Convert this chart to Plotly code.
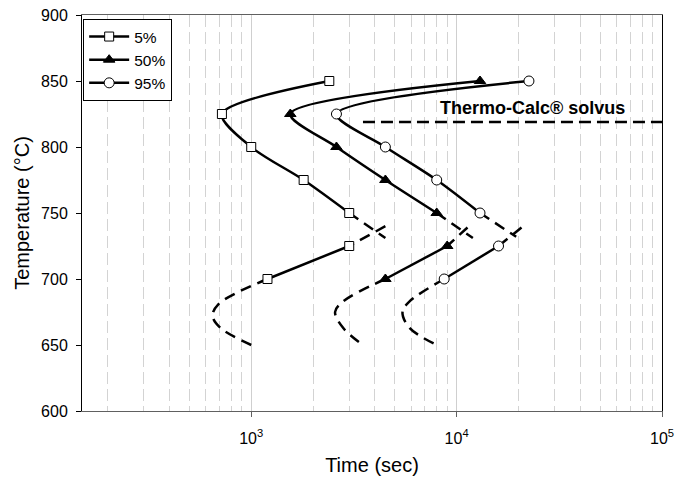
import numpy as np
import plotly.graph_objects as go

# ---------------- data ----------------
# 5 % transformed
t5_upper = [2400, 720, 1000, 1800, 3000]
T5_upper = [850, 825, 800, 775, 750]
t5_ext_up = [3000, 4500]
T5_ext_up = [750, 731]
t5_ext_lo = [4500, 3000]
T5_ext_lo = [740, 725]
t5_lower = [3000, 1200]
T5_lower = [725, 700]
t5_nose = [1200, 693, 649, 707, 1000]
T5_nose = [700, 681, 672, 663, 650]

# 50 % transformed
t50_upper = [13000, 1550, 2600, 4500, 8000]
T50_upper = [850, 825, 800, 775, 750]
t50_ext_up = [8000, 12000]
T50_ext_up = [750, 731]
t50_ext_lo = [11300, 9000]
T50_ext_lo = [739, 725]
t50_lower = [9000, 4500]
T50_lower = [725, 700]
t50_nose = [4500, 2800, 2560, 2800, 3500]
T50_nose = [700, 683, 675, 663, 650]

# 95 % transformed
t95_upper = [22500, 2600, 4500, 8000, 13000]
T95_upper = [850, 825, 800, 775, 750]
t95_ext_up = [13000, 19500]
T95_ext_up = [750, 732]
t95_ext_lo = [20700, 16000]
T95_ext_lo = [739, 725]
t95_lower = [16000, 8700]
T95_lower = [725, 700]
t95_nose = [8700, 5900, 5450, 5900, 8000]
T95_nose = [700, 683, 675, 663, 650]

# Thermo-Calc solvus
t_solvus = [3500, 100000]
T_solvus = [819, 819]
solvus_label = "Thermo-Calc® solvus"
solvus_label_t = 8100
solvus_label_T = 829.5

x_tickvals = [1000, 10000, 100000]
x_ticktext = ["10<sup>3</sup>", "10<sup>4</sup>", "10<sup>5</sup>"]
x_range = [150, 100000]
y_range = [600, 900]

series = [
    dict(name="5%", symbol="square", fill="white", size=9,
         up=(t5_upper, T5_upper), eu=(t5_ext_up, T5_ext_up), el=(t5_ext_lo, T5_ext_lo),
         lo=(t5_lower, T5_lower), no=(t5_nose, T5_nose)),
    dict(name="50%", symbol="triangle-up", fill="black", size=10,
         up=(t50_upper, T50_upper), eu=(t50_ext_up, T50_ext_up), el=(t50_ext_lo, T50_ext_lo),
         lo=(t50_lower, T50_lower), no=(t50_nose, T50_nose)),
    dict(name="95%", symbol="circle", fill="white", size=10,
         up=(t95_upper, T95_upper), eu=(t95_ext_up, T95_ext_up), el=(t95_ext_lo, T95_ext_lo),
         lo=(t95_lower, T95_lower), no=(t95_nose, T95_nose)),
]

FONT = "Liberation Sans, Arial, sans-serif"
LW = 2.5
DASH = "11px,7px"

fig = go.Figure()
for s in series:
    mk = dict(symbol=s["symbol"], size=s["size"], color=s["fill"],
              line=dict(color="black", width=1))
    for key in ("eu", "el", "no"):
        xs, ys = s[key]
        fig.add_trace(go.Scatter(x=xs, y=ys, mode="lines",
                                 line=dict(color="black", width=LW, dash=DASH, shape="spline"),
                                 legendgroup=s["name"], showlegend=False, hoverinfo="skip"))
    xs, ys = s["lo"]
    fig.add_trace(go.Scatter(x=xs, y=ys, mode="lines+markers", marker=mk,
                             line=dict(color="black", width=LW, shape="spline"),
                             legendgroup=s["name"], showlegend=False))
    xs, ys = s["up"]
    fig.add_trace(go.Scatter(x=xs, y=ys, mode="lines+markers", marker=mk, name=s["name"],
                             line=dict(color="black", width=LW, shape="spline", smoothing=0.85),
                             legendgroup=s["name"], showlegend=True))

fig.add_trace(go.Scatter(x=t_solvus, y=T_solvus, mode="lines",
                         line=dict(color="black", width=LW, dash="12px,6px"),
                         showlegend=False, hoverinfo="skip"))

fig.add_annotation(x=np.log10(solvus_label_t), y=solvus_label_T, xref="x", yref="y",
                   text="<b>" + solvus_label + "</b>", showarrow=False,
                   xanchor="left", yanchor="middle",
                   font=dict(family=FONT, size=18, color="black"))

fig.update_layout(
    width=676, height=480,
    margin=dict(l=82, r=14, t=15, b=69, autoexpand=False),
    paper_bgcolor="white", plot_bgcolor="white",
    font=dict(family=FONT, size=16, color="black"),
    showlegend=True,
    legend=dict(x=0.002, y=0.99, xanchor="left", yanchor="top",
                bordercolor="black", borderwidth=1, bgcolor="white",
                font=dict(family=FONT, size=15.5), itemwidth=40,
                tracegroupgap=0),
)
fig.update_xaxes(
    type="log", range=[np.log10(x_range[0]), np.log10(x_range[1])],
    tickmode="array", tickvals=x_tickvals, ticktext=x_ticktext,
    ticks="outside", ticklen=5, tickcolor="#606060", ticklabelstandoff=8,
    showline=True, linecolor="#606060", linewidth=1, mirror=True,
    showgrid=True, gridcolor="#cfcfcf", gridwidth=1,
    minor=dict(dtick="D1", showgrid=True, gridcolor="#d3d3d3", griddash="12px,5px",
               gridwidth=1, ticks=""),
    zeroline=False, automargin=False,
    title=dict(text="Time (sec)", font=dict(family=FONT, size=20), standoff=11),
)
fig.update_yaxes(
    range=y_range, dtick=50, tick0=600,
    ticks="outside", ticklen=5, tickcolor="black", ticklabelstandoff=5,
    showline=True, linecolor="black", linewidth=1, mirror=True,
    showgrid=False, zeroline=False, automargin=False,
    title=dict(text="Temperature (°C)", font=dict(family=FONT, size=20), standoff=6),
)

fig.write_html("out.html", config={"displayModeBar": False},
               post_script="document.body.style.margin='0';document.body.style.overflow='hidden';")
